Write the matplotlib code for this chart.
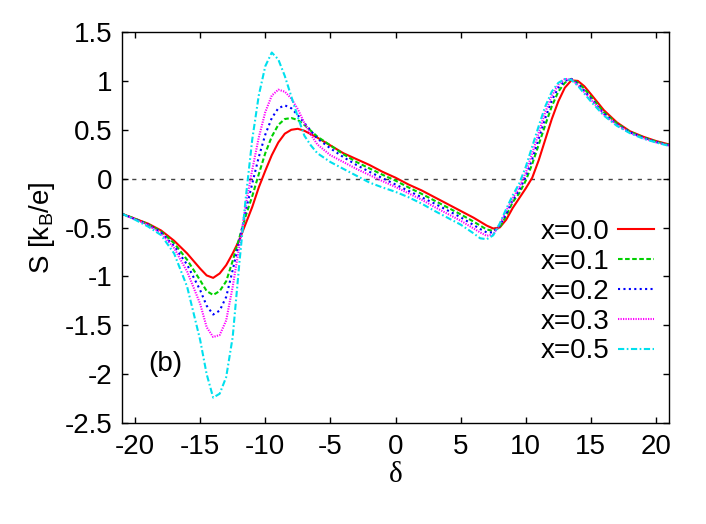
from __future__ import annotations

import matplotlib

matplotlib.use("Agg")

import matplotlib.pyplot as plt

plt.rcParams["font.family"] = ["Liberation Sans", "DejaVu Sans"]
plt.rcParams["mathtext.fontset"] = "custom"
plt.rcParams["mathtext.rm"] = "Liberation Sans"
plt.rcParams["mathtext.it"] = "Liberation Sans"

# detuning grid shared by all curves
DELTA = [
    -21, -20, -19, -18, -17, -16, -15, -14.5, -14, -13.5, -13, -12.5, -12,
    -11.5, -11, -10.5, -10, -9.5, -9, -8.5, -8, -7.5, -7, -6.5, -6, -5, -4,
    -3, -2, -1, 0, 1, 2, 3, 4, 5, 6, 6.5, 7, 7.5, 8, 8.5, 9, 9.5, 10, 10.5,
    11, 11.5, 12, 12.5, 13, 13.5, 14, 14.5, 15, 16, 17, 18, 19, 20, 21,
]

S_X00 = [
    -0.36, -0.41, -0.46, -0.53, -0.635, -0.765, -0.92, -0.99, -1.015, -0.97,
    -0.885, -0.765, -0.63, -0.46, -0.29, -0.09, 0.08, 0.24, 0.37, 0.46, 0.50,
    0.51, 0.49, 0.455, 0.42, 0.34, 0.26, 0.20, 0.14, 0.07, 0.01, -0.06, -0.12,
    -0.19, -0.26, -0.33, -0.40, -0.44, -0.48, -0.51, -0.50, -0.42, -0.30,
    -0.20, -0.10, 0.01, 0.19, 0.40, 0.61, 0.79, 0.93, 1.005, 1.00, 0.945,
    0.865, 0.70, 0.575, 0.485, 0.43, 0.385, 0.35,
]

S_X01 = [
    -0.36, -0.41, -0.465, -0.54, -0.66, -0.83, -1.04, -1.15, -1.19, -1.15,
    -1.05, -0.84, -0.61, -0.38, -0.18, 0.045, 0.26, 0.43, 0.55, 0.61, 0.62,
    0.60, 0.55, 0.49, 0.43, 0.34, 0.25, 0.17, 0.105, 0.04, -0.02, -0.09,
    -0.155, -0.225, -0.295, -0.365, -0.44, -0.48, -0.52, -0.535, -0.50, -0.38,
    -0.24, -0.15, -0.02, 0.15, 0.35, 0.55, 0.74, 0.89, 0.98, 1.02, 0.98, 0.92,
    0.84, 0.68, 0.565, 0.48, 0.425, 0.38, 0.345,
]

S_X02 = [
    -0.36, -0.415, -0.47, -0.55, -0.69, -0.88, -1.14, -1.30, -1.39, -1.35,
    -1.21, -0.935, -0.645, -0.33, -0.05, 0.22, 0.45, 0.62, 0.72, 0.75, 0.72,
    0.65, 0.57, 0.49, 0.41, 0.31, 0.22, 0.14, 0.07, 0.005, -0.06, -0.125,
    -0.19, -0.255, -0.325, -0.395, -0.475, -0.515, -0.55, -0.55, -0.48, -0.36,
    -0.22, -0.12, 0.02, 0.20, 0.41, 0.62, 0.80, 0.93, 1.00, 1.02, 0.97, 0.90,
    0.82, 0.665, 0.555, 0.475, 0.42, 0.375, 0.34,
]

S_X03 = [
    -0.36, -0.415, -0.475, -0.56, -0.71, -0.95, -1.28, -1.52, -1.62, -1.60,
    -1.45, -1.105, -0.70, -0.27, 0.09, 0.42, 0.68, 0.85, 0.91, 0.89, 0.82,
    0.71, 0.57, 0.45, 0.35, 0.24, 0.17, 0.10, 0.037, -0.025, -0.085, -0.15,
    -0.215, -0.29, -0.36, -0.43, -0.51, -0.55, -0.585, -0.57, -0.47, -0.33,
    -0.20, -0.09, 0.06, 0.26, 0.47, 0.68, 0.85, 0.96, 1.02, 1.015, 0.96,
    0.885, 0.81, 0.655, 0.55, 0.47, 0.415, 0.372, 0.34,
]

S_X05 = [
    -0.36, -0.42, -0.49, -0.577, -0.765, -1.105, -1.65, -2.00, -2.24, -2.20,
    -2.03, -1.62, -0.88, -0.20, 0.40, 0.85, 1.15, 1.29, 1.22, 1.05, 0.84, 0.63,
    0.44, 0.34, 0.26, 0.17, 0.10, 0.03, -0.04, -0.09, -0.135, -0.19, -0.255,
    -0.33, -0.40, -0.47, -0.56, -0.61, -0.62, -0.58, -0.46, -0.31, -0.17,
    -0.05, 0.12, 0.33, 0.54, 0.74, 0.89, 0.98, 1.02, 1.01, 0.95, 0.87, 0.79,
    0.645, 0.54, 0.465, 0.41, 0.37, 0.335,
]

SERIES = [
    ("x=0.0", S_X00, {"color": "#ff0000", "linestyle": "-"}),
    ("x=0.1", S_X01, {"color": "#00d000", "linestyle": (0, (2.2, 1.2))}),
    ("x=0.2", S_X02, {"color": "#0000ff", "linestyle": (0, (1.0, 1.6))}),
    ("x=0.3", S_X03, {"color": "#ff00ff", "linestyle": (0, (0.6, 0.6))}),
    ("x=0.5", S_X05, {"color": "#00e0ee", "linestyle": (0, (3.0, 1.2, 0.8, 1.2))}),
]

X_TICKS = [-20, -15, -10, -5, 0, 5, 10, 15, 20]
Y_TICKS = [-2.5, -2, -1.5, -1, -0.5, 0, 0.5, 1, 1.5]


def tick_text(value: float) -> str:
    return f"{value:g}"


def main() -> None:
    fig = plt.figure(figsize=(7.06, 5.24), dpi=100)
    ax = fig.add_axes([0.1728, 0.1927, 0.7748, 0.7462])

    ax.axhline(0, color="#444444", linewidth=1.0, linestyle=(0, (3, 4)), zorder=1)

    for label, values, style in SERIES:
        ax.plot(DELTA, values, label=label, linewidth=1.5, zorder=2, **style)

    ax.set_xlim(-21, 21)
    ax.set_ylim(-2.5, 1.5)
    ax.set_xticks(X_TICKS)
    ax.set_xticklabels([tick_text(v) for v in X_TICKS])
    ax.set_yticks(Y_TICKS)
    ax.set_yticklabels([tick_text(v) for v in Y_TICKS])
    ax.tick_params(direction="in", length=4.5, width=1, labelsize=20,
                   top=True, right=True)
    ax.tick_params(axis="x", pad=8)
    ax.tick_params(axis="y", pad=7)
    for spine in ax.spines.values():
        spine.set_linewidth(1.0)

    ax.set_xlabel("δ", fontsize=21, family=["Liberation Serif", "DejaVu Serif"],
                  labelpad=1)
    ax.set_ylabel(r"S [k$_\mathrm{B}$/e]", fontsize=20, labelpad=5)

    ax.text(-17.65, -1.9, "(b)", fontsize=20, ha="center", va="center")

    ax.legend(
        loc="upper right",
        bbox_to_anchor=(0.972, 0.522),
        frameon=False,
        markerfirst=False,
        fontsize=20,
        handlelength=1.3,
        handletextpad=0.3,
        labelspacing=0.14,
        borderpad=0,
        borderaxespad=0,
    )

    fig.savefig("out.png", dpi=100)
    plt.close(fig)


if __name__ == "__main__":
    main()
